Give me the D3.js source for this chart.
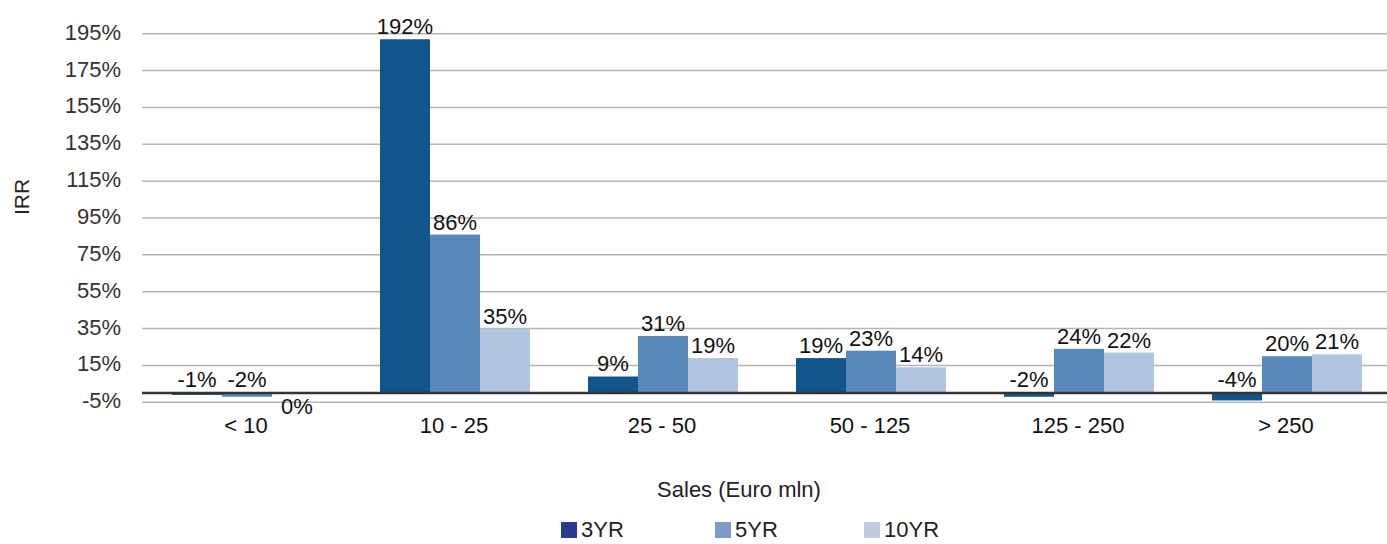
<!DOCTYPE html>
<html>
<head>
<meta charset="utf-8">
<script src="https://cdn.jsdelivr.net/npm/d3@7"></script>
<style>
  body { margin: 0; background: #fff; }
  text { font-family: "Liberation Sans", Arial, sans-serif; }
</style>
</head>
<body>
<div id="chart"></div>
<script>
// sales buckets and IRR per holding period
var categories = ["< 10", "10 - 25", "25 - 50", "50 - 125", "125 - 250", "> 250"];
var seriesNames = ["3YR", "5YR", "10YR"];
var irr3 = [-1, 192, 9, 19, -2, -4];
var irr5 = [-2, 86, 31, 23, 24, 20];
var irr10 = [0.3, 35, 19, 14, 22, 21];
var yTicks = [-5, 15, 35, 55, 75, 95, 115, 135, 155, 175, 195];

var barColors = ["#13558b", "#5888bc", "#b2c5df"];
var legendColors = ["#2b3990", "#7a9cc8", "#bfcce0"];

var width = 1387, height = 544;
var svg = d3.select("#chart").append("svg")
    .attr("width", width).attr("height", height);

var y = d3.scaleLinear().domain([-5, 195]).range([402.3, 33.7]);
var x0 = d3.scaleBand().domain(categories).range([142, 1390]);
var x1 = d3.scaleBand().domain(seriesNames).range([30, 180]);

var rows = categories.map(function(c, i) {
    return { cat: c, vals: [irr3[i], irr5[i], irr10[i]] };
});

// gridlines
svg.append("g").selectAll("line")
    .data(yTicks)
    .enter().append("line")
    .attr("x1", 142).attr("x2", width)
    .attr("y1", function(d) { return y(d); })
    .attr("y2", function(d) { return y(d); })
    .attr("stroke", "#b5b5b5")
    .attr("stroke-width", 1.5);

// y tick labels
svg.append("g").selectAll("text")
    .data(yTicks)
    .enter().append("text")
    .attr("x", 121)
    .attr("y", function(d) { return y(d) + 6; })
    .attr("text-anchor", "end")
    .style("font-size", "22px")
    .style("fill", "#333")
    .text(function(d) { return d + "%"; });

// bars
var groups = svg.append("g").selectAll("g")
    .data(rows)
    .enter().append("g")
    .attr("transform", function(d) { return "translate(" + x0(d.cat) + ",0)"; });

groups.selectAll("rect")
    .data(function(d) { return d.vals.map(function(v, j) { return { s: seriesNames[j], v: v, j: j }; }); })
    .enter().append("rect")
    .attr("x", function(d) { return x1(d.s); })
    .attr("width", x1.bandwidth())
    .attr("y", function(d) { return y(Math.max(0, d.v)); })
    .attr("height", function(d) { return Math.abs(y(d.v) - y(0)); })
    .attr("fill", function(d) { return barColors[d.j]; });

// zero line
svg.append("line")
    .attr("x1", 142).attr("x2", width)
    .attr("y1", y(0)).attr("y2", y(0))
    .attr("stroke", "#333")
    .attr("stroke-width", 2.5);

// value labels
groups.selectAll("text")
    .data(function(d) { return d.vals.map(function(v, j) { return { s: seriesNames[j], v: v }; }); })
    .enter().append("text")
    .attr("x", function(d) { return x1(d.s) + x1.bandwidth() / 2; })
    .attr("y", function(d) {
        if (d.v >= 0.5) return y(d.v) - 5;
        if (d.v < 0) return y(0) - 6;
        return y(0) + 21;
    })
    .attr("text-anchor", "middle")
    .style("font-size", "22px")
    .style("fill", "#111")
    .text(function(d) { return Math.round(d.v) + "%"; });

// category labels
svg.append("g").selectAll("text")
    .data(categories)
    .enter().append("text")
    .attr("x", function(d) { return x0(d) + x0.bandwidth() / 2; })
    .attr("y", 433)
    .attr("text-anchor", "middle")
    .style("font-size", "22px")
    .style("fill", "#111")
    .text(function(d) { return d; });

// axis titles
svg.append("text")
    .attr("transform", "translate(29,197) rotate(-90)")
    .attr("text-anchor", "middle")
    .style("font-size", "21px")
    .style("fill", "#222")
    .text("IRR");

svg.append("text")
    .attr("x", 739).attr("y", 497)
    .attr("text-anchor", "middle")
    .style("font-size", "22px")
    .style("fill", "#222")
    .text("Sales (Euro mln)");

// legend
var legend = svg.append("g").selectAll("g")
    .data(seriesNames)
    .enter().append("g")
    .attr("transform", function(d, i) { return "translate(" + [561, 715, 864][i] + ",0)"; });

legend.append("rect")
    .attr("x", 0).attr("y", 522)
    .attr("width", 16).attr("height", 16)
    .attr("fill", function(d, i) { return legendColors[i]; });

legend.append("text")
    .attr("x", 20).attr("y", 537)
    .style("font-size", "22px")
    .style("fill", "#222")
    .text(function(d) { return d; });
</script>
</body>
</html>
